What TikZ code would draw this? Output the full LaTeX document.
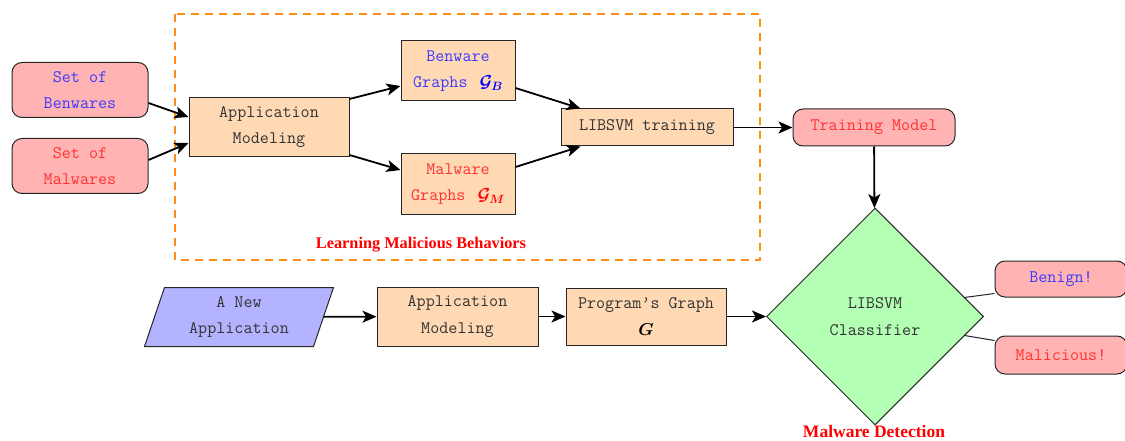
\documentclass[tikz,border=0pt]{standalone}
\usepackage{amsmath}
\usepackage{fontspec}
\newfontfamily\lblfont{Liberation Serif}
\usetikzlibrary{arrows.meta,shapes.geometric,calc}
\definecolor{pinkfill}{RGB}{255,179,179}
\definecolor{peach}{RGB}{255,217,179}
\definecolor{bluefill}{RGB}{179,179,255}
\definecolor{greenfill}{RGB}{179,255,179}
\definecolor{txtblue}{RGB}{60,60,255}
\definecolor{txtred}{RGB}{255,50,50}
\definecolor{txtgray}{RGB}{51,51,51}
\definecolor{dashorange}{RGB}{255,140,20}
\newcommand\tfont{\fontsize{17.6}{26.5}\selectfont\ttfamily}
\tikzset{
  base/.style={draw=black!85, line width=1pt, align=center, font=\tfont, text=txtgray, inner sep=0pt},
  pinkbox/.style={base, fill=pinkfill, rounded corners=10pt},
  peachbox/.style={base, fill=peach},
  arr/.style={line width=1.8pt, -{Stealth[length=14pt,width=12pt,inset=3.5pt]}},
  plain/.style={line width=1pt, black!85},
  lbl/.style={font=\lblfont\bfseries\fontsize{16.3}{20}\selectfont, text=red},
}
\begin{document}
\begin{tikzpicture}[x=1pt,y=-1pt]
\useasboundingbox (0,0) rectangle (1125,441);
% dashed region
\draw[dashorange, line width=2pt, dash pattern=on 8pt off 6pt] (175,14) rectangle (760,260);
\node[lbl] (lmb) at (421,245) {Learning Malicious Behaviors};
% top row
\node[pinkbox, minimum width=136, minimum height=55, text=txtblue] (ben) at (80,90) {Set of\\Benwares};
\node[pinkbox, minimum width=136, minimum height=55, text=txtred] (mal) at (80,166) {Set of\\Malwares};
\node[peachbox, minimum width=160, minimum height=59] (am1) at (269,127) {Application\\Modeling};
\node[peachbox, minimum width=114, minimum height=60, text=txtblue] (bg) at (458,71) {Benware\\Graphs \,{\color{blue}$\boldsymbol{\mathcal{G}_B}$}};
\node[peachbox, minimum width=114, minimum height=60, text=txtred] (mg) at (458,184) {Malware\\Graphs \,{\color{red}$\boldsymbol{\mathcal{G}_M}$}};
\node[peachbox, minimum width=172, minimum height=37] (lt) at (647,127.5) {LIBSVM training};
\node[pinkbox, minimum width=162, minimum height=37, text=txtred] (tm) at (874,127.5) {Training Model};
% classifier
\node[diamond, draw=black!85, line width=1pt, fill=greenfill, minimum width=217, minimum height=217, inner sep=0pt, align=center, font=\tfont, text=txtgray] (cls) at (875,316.5) {LIBSVM\\Classifier};
\node[pinkbox, minimum width=132, minimum height=36, text=txtblue] (bn) at (1061,279) {Benign!};
\node[pinkbox, minimum width=132, minimum height=38, text=txtred] (ml) at (1061,355) {Malicious!};
\node[lbl, font=\lblfont\bfseries\fontsize{17.5}{20}\selectfont] (md) at (874,432) {Malware Detection};
% bottom row
\node[base, draw=none, minimum width=168, minimum height=58] (na) at (239,317) {};
\draw[line width=1pt, draw=black!85, fill=bluefill]
  ($(na.north west)+(10,0)$) -- ($(na.north east)+(10,0)$) -- ($(na.south east)+(-10,0)$) -- ($(na.south west)+(-10,0)$) -- cycle;
\node[base, draw=none, minimum width=168, minimum height=58] (natext) at (na.center) {A New\\Application};
\node[peachbox, minimum width=161, minimum height=59] (am2) at (457.5,316.5) {Application\\Modeling};
\node[peachbox, minimum width=160, minimum height=57] (pg) at (646,316.5) {Program’s Graph\\{\color{black}$\boldsymbol{G}$}};
% connectors
\draw[arr] ($(ben.east)+(0,13)$) -- ($(am1.west)+(0,-10)$);
\draw[arr] ($(mal.east)+(0,-6)$) -- ($(am1.west)+(0,16)$);
\draw[arr] ($(am1.north east)+(0,2)$) -- ($(bg.west)+(0,15)$);
\draw[arr] ($(am1.south east)+(0,-2)$) -- ($(mg.west)+(0,-14)$);
\draw[arr] ($(bg.east)+(0,17)$) -- ($(lt.north west)+(20,0)$);
\draw[arr] ($(mg.east)+(0,-17)$) -- ($(lt.south west)+(20,0)$);
\draw[arr] (lt) -- (tm);
\draw[arr] (tm) -- (cls);
\draw[arr] (na) -- (am2);
\draw[arr] (am2) -- (pg);
\draw[arr] (pg) -- (cls);
\draw[plain] ($(cls.east)!0.175!(cls.north)$) -- ($(bn.south west)+(0,-4)$);
\draw[plain] ($(cls.east)!0.175!(cls.south)$) -- ($(ml.north west)+(0,5)$);
\end{tikzpicture}
\end{document}
